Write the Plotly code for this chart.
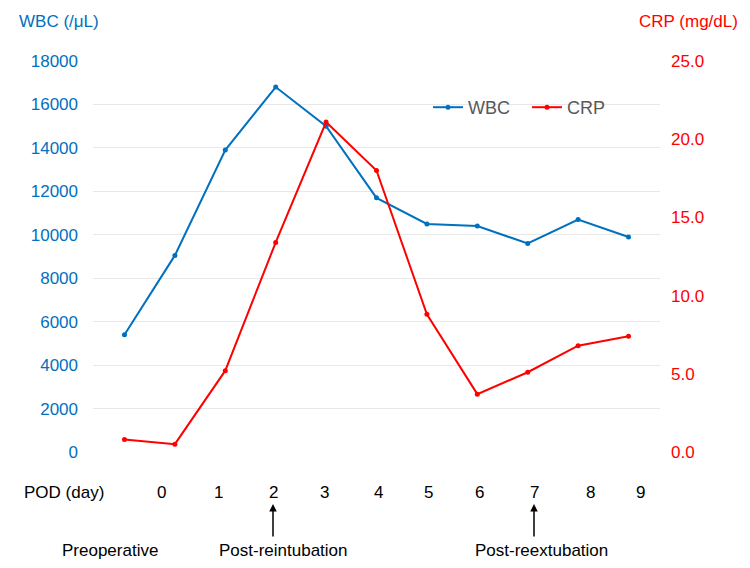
import plotly.graph_objects as go

categories = ["Pre", "0", "1", "2", "3", "4", "5", "6", "7", "8", "9"]
pod_labels = ["0", "1", "2", "3", "4", "5", "6", "7", "8", "9"]
wbc = [5400, 9050, 13900, 16800, 15000, 11700, 10500, 10400, 9600, 10700, 9900]
crp = [0.8, 0.5, 5.2, 13.4, 21.1, 18.0, 8.8, 3.7, 5.1, 6.8, 7.4]
events = ["Preoperative", "Post-reintubation", "Post-reextubation"]

BLUE = "#0070C0"
RED = "#FF0000"
FONT = "Liberation Sans, Arial, sans-serif"
FS = 17

W, H = 750, 568
L, R, T, B = 93, 90, 61, 116
pw = W - L - R
ph = H - T - B

def px_x(x):
    return (x - L) / pw

def px_y(y):
    return (H - B - y) / ph

def txt(text, x, y, color):
    return dict(text=text, x=px_x(x), y=px_y(y), xref="paper", yref="paper",
                xanchor="center", yanchor="middle", showarrow=False,
                font=dict(color=color, size=FS, family=FONT))

fig = go.Figure()
fig.add_trace(go.Scatter(x=categories, y=wbc, name="WBC", mode="lines+markers",
                         line=dict(color=BLUE, width=2), marker=dict(size=5, color=BLUE)))
fig.add_trace(go.Scatter(x=categories, y=crp, name="CRP", mode="lines+markers", yaxis="y2",
                         line=dict(color=RED, width=2), marker=dict(size=5, color=RED)))

ann = []
ann.append(txt("WBC (/μL)", 59, 22, BLUE))
ann.append(txt("CRP (mg/dL)", 688, 22, RED))
ann.append(txt("POD (day)", 64, 493, "black"))
label_px = [161, 218, 273, 324, 378, 428, 479, 534, 590, 640]
for lab, xp in zip(pod_labels, label_px):
    ann.append(txt(lab, xp, 493, "black"))
event_px = [110, 283, 541]
for ev, xp in zip(events, event_px):
    ann.append(txt(ev, xp, 550, "black"))
for xp in [273, 534]:
    ann.append(dict(text="", x=px_x(xp), y=px_y(504), xref="paper", yref="paper",
                    ax=0, ay=34, axref="pixel", ayref="pixel",
                    showarrow=True, arrowhead=2, arrowsize=1, arrowwidth=1.5, arrowcolor="black"))

fig.update_layout(
    width=W, height=H,
    margin=dict(l=L, r=R, t=T, b=B),
    plot_bgcolor="white", paper_bgcolor="white",
    font=dict(family=FONT, size=FS),
    xaxis=dict(type="category", showticklabels=False, showgrid=False, zeroline=False,
               showline=False, ticks=""),
    yaxis=dict(range=[0, 18000], dtick=2000, tickformat="d", tickfont=dict(color=BLUE, size=FS),
               gridcolor="#E8E8E8", zeroline=False, showline=False, ticklabelstandoff=14),
    yaxis2=dict(range=[0, 25], dtick=5, tickformat=".1f", overlaying="y", side="right",
                tickfont=dict(color=RED, size=FS), showgrid=False, zeroline=False,
                showline=False, ticklabelstandoff=10),
    legend=dict(orientation="h", x=px_x(428), y=px_y(89), xanchor="left", yanchor="top",
                font=dict(color="#595959", size=18, family=FONT), itemwidth=30,
                entrywidth=54, bgcolor="rgba(0,0,0,0)"),
    annotations=ann,
)

fig.write_html("out.html")
